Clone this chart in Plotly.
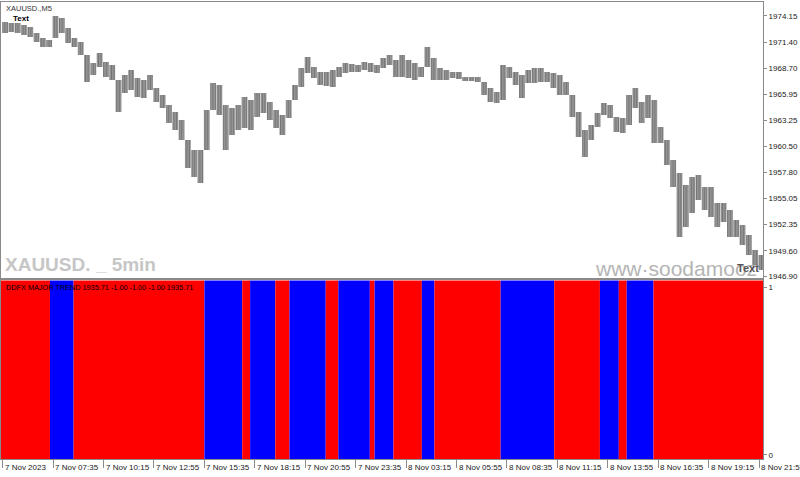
import plotly.graph_objects as go

# ---------------- data ----------------
# XAUUSD M5: each column summarises 4 five-minute bars (high / low)
bars_per_col = 4
price_high = [1973.51, 1973.41, 1973.41, 1973.20, 1972.99, 1972.36, 1971.84, 1971.63, 1974.14, 1973.93,
              1972.88, 1971.84, 1971.42, 1970.06, 1969.23, 1970.27, 1969.33, 1969.02, 1967.45, 1967.97,
              1968.50, 1967.66, 1967.45, 1967.97, 1966.61, 1965.88, 1964.84, 1964.11, 1963.27, 1961.18,
              1960.14, 1960.14, 1964.32, 1967.14, 1966.93, 1964.84, 1964.52, 1964.84, 1965.67, 1965.36,
              1966.09, 1966.09, 1965.15, 1964.32, 1963.79, 1965.36, 1966.93, 1968.70, 1969.85, 1968.81,
              1968.29, 1968.29, 1968.50, 1968.81, 1969.23, 1969.12, 1969.02, 1969.33, 1969.23, 1969.02,
              1969.75, 1970.06, 1969.54, 1970.06, 1969.54, 1969.23, 1968.81, 1970.90, 1969.75, 1968.70,
              1968.50, 1968.29, 1968.29, 1967.76, 1967.76, 1967.76, 1967.24, 1966.61, 1966.20, 1969.02,
              1968.81, 1968.29, 1967.97, 1968.50, 1968.70, 1968.70, 1968.29, 1968.18, 1967.97, 1967.24,
              1965.88, 1964.11, 1962.23, 1962.75, 1964.00, 1965.05, 1964.84, 1963.58, 1963.48, 1965.88,
              1966.61, 1965.15, 1965.88, 1965.36, 1962.54, 1961.18, 1959.09, 1957.73, 1956.48, 1957.31,
              1957.52, 1956.27, 1956.27, 1954.60, 1954.60, 1953.87, 1952.82, 1952.30, 1951.25, 1949.69,
              1949.16]
price_low = [1972.36, 1972.47, 1972.36, 1972.15, 1971.94, 1971.42, 1970.90, 1970.90, 1971.84, 1972.36,
             1971.32, 1970.90, 1970.06, 1967.24, 1967.97, 1968.81, 1967.76, 1967.45, 1964.11, 1966.09,
             1966.41, 1965.67, 1965.57, 1966.41, 1965.15, 1964.52, 1962.96, 1962.23, 1961.18, 1958.25,
             1957.31, 1956.69, 1960.14, 1964.32, 1963.79, 1960.14, 1961.70, 1962.23, 1962.43, 1962.23,
             1963.58, 1964.00, 1963.27, 1962.43, 1961.70, 1963.48, 1965.36, 1966.72, 1968.18, 1967.66,
             1966.93, 1966.82, 1966.72, 1967.76, 1968.18, 1968.29, 1968.29, 1968.50, 1968.29, 1968.18,
             1968.70, 1969.02, 1967.76, 1967.76, 1967.66, 1967.45, 1967.76, 1968.81, 1967.45, 1967.45,
             1967.45, 1967.66, 1967.55, 1967.35, 1967.35, 1967.24, 1965.88, 1965.15, 1965.05, 1965.36,
             1967.66, 1966.93, 1965.57, 1967.14, 1967.14, 1967.24, 1967.24, 1966.61, 1965.88, 1965.88,
             1963.58, 1961.49, 1959.40, 1961.18, 1962.54, 1963.79, 1963.48, 1962.02, 1961.91, 1962.75,
             1964.52, 1962.96, 1963.48, 1960.87, 1960.87, 1958.57, 1956.27, 1951.04, 1952.09, 1953.55,
             1954.91, 1953.87, 1953.13, 1952.09, 1952.61, 1951.04, 1951.04, 1950.21, 1949.16, 1948.12,
             1947.60]

# DDFX MAJOR TREND: bar index where each trend run starts, 1 = up (blue), 0 = down (red)
trend_start = [-2, 30, 45, 128, 152, 157, 173, 182, 205, 213, 233, 236, 248, 266, 274, 316, 350, 379, 391, 396, 413]
trend_dir   = [0, 1, 0, 1, 0, 1, 0, 1, 0, 1, 0, 1, 0, 1, 0, 1, 0, 1, 0, 1, 0]
n_bars = 486

time_tick_bars = [0, 32, 64, 96, 128, 160, 192, 224, 256, 288, 320, 352, 384, 416, 448, 480]
time_tick_text = ["7 Nov 2023", "7 Nov 07:35", "7 Nov 10:15", "7 Nov 12:55", "7 Nov 15:35",
                  "7 Nov 18:15", "7 Nov 20:55", "7 Nov 23:35", "8 Nov 03:15", "8 Nov 05:55",
                  "8 Nov 08:35", "8 Nov 11:15", "8 Nov 13:55", "8 Nov 16:35", "8 Nov 19:15",
                  "8 Nov 21:55"]
price_ticks = [1974.15, 1971.40, 1968.70, 1965.95, 1963.25, 1960.50, 1957.80, 1955.05, 1952.35, 1949.60, 1946.90]
indicator_ticks = [0, 1]
indicator_label = "DDFX MAJOR TREND 1935.71 -1.00 -1.00 -1.00 1935.71"

# ---------------- layout geometry ----------------
W, H = 800, 477
ML, MR, MT, MB = 1, 37, 2, 18
PW, PH = W - ML - MR, H - MT - MB


def pxx(x):
    return (x - ML) / PW


def pxy(y):
    return (H - MB - y) / PH


X_RANGE = [-1.08, 482.5]
Y_RANGE = [1946.71, 1975.60]
Y2_RANGE = [-0.024, 1.039]

AX_FONT = dict(family="Liberation Sans, Arial, sans-serif", size=8, color="#222")
LINE_C = "#8a8a8a"

fig = go.Figure()

centers = [k * bars_per_col + (bars_per_col - 1) / 2 for k in range(len(price_high))]
fig.add_trace(go.Bar(
    x=centers,
    y=[h - l for h, l in zip(price_high, price_low)],
    base=price_low,
    width=bars_per_col * 0.92,
    marker=dict(color="#5a5a5a", line=dict(width=0),
                pattern=dict(shape="|", fgcolor="#484848", bgcolor="#a4a4a4",
                             size=2.6, solidity=0.6, fillmode="overlay")),
    xaxis="x", yaxis="y", showlegend=False, hoverinfo="skip",
))

# trend runs as full-height coloured blocks
shapes = []
for i, s in enumerate(trend_start):
    e = trend_start[i + 1] if i + 1 < len(trend_start) else n_bars
    shapes.append(dict(
        type="rect", xref="x2", yref="y2 domain", x0=s, x1=e, y0=0, y1=1,
        fillcolor="#0000FF" if trend_dir[i] == 1 else "#FF0000",
        line=dict(width=0), layer="below",
    ))

# invisible trace to anchor the indicator axes
fig.add_trace(go.Scatter(x=[X_RANGE[0]], y=[0], xaxis="x2", yaxis="y2",
                         mode="markers", marker=dict(opacity=0), showlegend=False, hoverinfo="skip"))

annotations = []
annotations.append(dict(text="XAUUSD.,M5", x=pxx(4), y=pxy(8), xref="paper", yref="paper",
                        xanchor="left", yanchor="middle", showarrow=False,
                        font=dict(family="Liberation Sans, Arial", size=7.5, color="#333")))
annotations.append(dict(text="<b>Text</b>", x=pxx(11), y=pxy(19), xref="paper", yref="paper",
                        xanchor="left", yanchor="middle", showarrow=False,
                        font=dict(family="Liberation Sans, Arial", size=8, color="#000")))
annotations.append(dict(text="<b>XAUUSD. _ 5min</b>", x=pxx(3), y=pxy(264), xref="paper", yref="paper",
                        xanchor="left", yanchor="middle", showarrow=False,
                        font=dict(family="Liberation Sans, Arial", size=19, color="#c6c6c6")))
annotations.append(dict(text="www·soodamooz", x=pxx(593), y=pxy(268), xref="paper", yref="paper",
                        xanchor="left", yanchor="middle", showarrow=False,
                        font=dict(family="Liberation Sans, Arial", size=21, color="#b4b4b4")))
annotations.append(dict(text="<b>Text</b>", x=pxx(761), y=pxy(268), xref="paper", yref="paper",
                        xanchor="right", yanchor="middle", showarrow=False,
                        font=dict(family="Liberation Sans, Arial", size=11, color="#555")))
annotations.append(dict(text=indicator_label, x=pxx(4), y=pxy(287), xref="paper", yref="paper",
                        xanchor="left", yanchor="middle", showarrow=False,
                        font=dict(family="Liberation Sans, Arial", size=7.3, color="#000")))
for b, t in zip(time_tick_bars, time_tick_text):
    annotations.append(dict(text=t, x=b, xref="x2", y=pxy(467), yref="paper",
                            xanchor="left", yanchor="middle", xshift=0, showarrow=False,
                            font=AX_FONT))

fig.update_layout(
    width=W, height=H,
    margin=dict(l=ML, r=MR, t=MT, b=MB),
    paper_bgcolor="white", plot_bgcolor="white",
    showlegend=False,
    shapes=shapes,
    annotations=annotations,
    xaxis=dict(domain=[0, 1], anchor="y", range=X_RANGE, showgrid=False, zeroline=False,
               showticklabels=False, ticks="", showline=True, mirror=True,
               linecolor=LINE_C, linewidth=1),
    yaxis=dict(domain=[0.3952, 1], anchor="x", range=Y_RANGE, side="right",
               tickvals=price_ticks, ticktext=[f"{v:.2f}" for v in price_ticks],
               ticks="outside", ticklen=3, tickcolor=LINE_C, tickfont=AX_FONT,
               showgrid=False, zeroline=False, showline=True, mirror=True,
               linecolor=LINE_C, linewidth=1),
    xaxis2=dict(domain=[0, 1], anchor="y2", range=X_RANGE, showgrid=False, zeroline=False,
                tickvals=time_tick_bars, showticklabels=False, ticks="outside", ticklen=8,
                tickcolor=LINE_C, showline=True, mirror=True, linecolor=LINE_C, linewidth=1),
    yaxis2=dict(domain=[0, 0.3906], anchor="x2", range=Y2_RANGE, side="right",
                tickvals=indicator_ticks, ticktext=[str(v) for v in indicator_ticks],
                ticks="outside", ticklen=3, tickcolor=LINE_C, tickfont=AX_FONT,
                showgrid=False, zeroline=False, showline=True, mirror=True,
                linecolor=LINE_C, linewidth=1),
)

fig.write_html("out.html")
